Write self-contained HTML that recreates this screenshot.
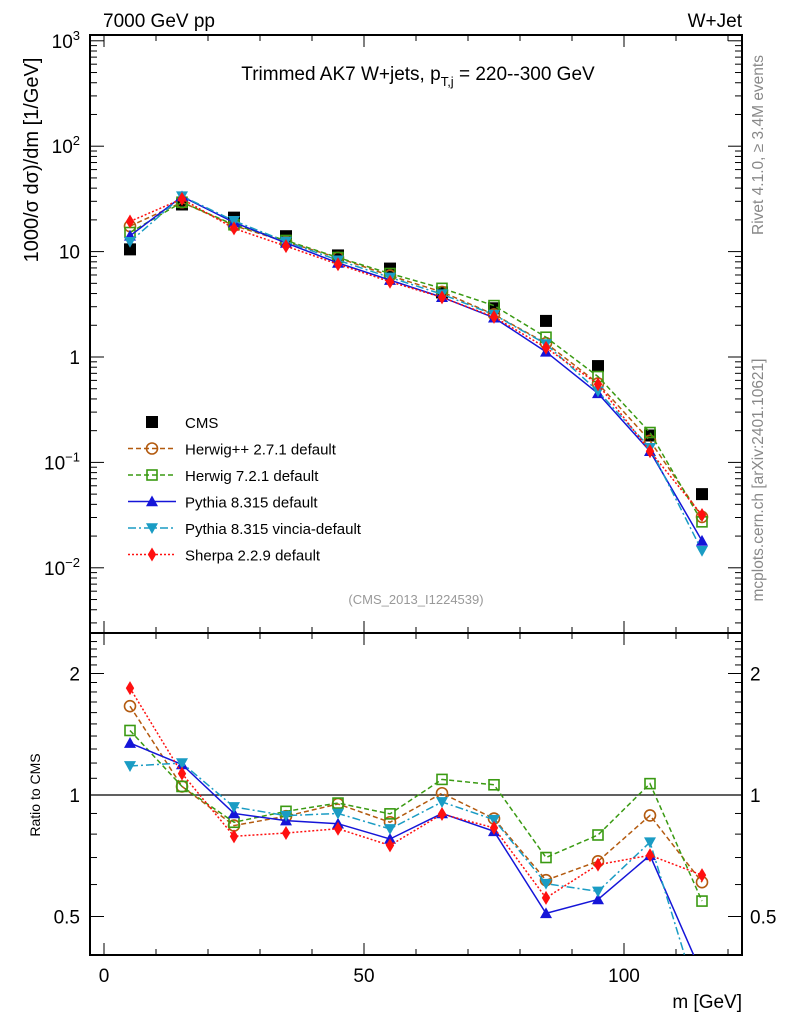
<!DOCTYPE html>
<html><head><meta charset="utf-8">
<style>
html,body{margin:0;padding:0;background:#fff;}
svg{display:block;font-family:"Liberation Sans",sans-serif;}
</style></head>
<body>
<svg id="chart" width="786" height="1024" viewBox="0 0 786 1024" xmlns="http://www.w3.org/2000/svg">
<rect width="786" height="1024" fill="#fff"/>
<text x="103" y="27" font-size="19">7000 GeV pp</text>
<text x="742" y="27" font-size="19" text-anchor="end">W+Jet</text>
<text x="418" y="80" font-size="19" text-anchor="middle">Trimmed AK7 W+jets, p<tspan font-size="13" dy="6">T,j</tspan><tspan dy="-6"> = 220--300 GeV</tspan></text>
<text transform="translate(38,160) rotate(-90)" font-size="20" text-anchor="middle">1000/σ  dσ)/dm [1/GeV]</text>
<text transform="translate(40,795) rotate(-90)" font-size="14" text-anchor="middle">Ratio to CMS</text>
<text x="742" y="1008" font-size="19" text-anchor="end">m [GeV]</text>
<text transform="translate(763,145) rotate(-90)" font-size="15.5" fill="#888" text-anchor="middle">Rivet 4.1.0, ≥ 3.4M events</text>
<text transform="translate(763,480) rotate(-90)" font-size="15.5" fill="#888" text-anchor="middle">mcplots.cern.ch [arXiv:2401.10621]</text>
<text x="416" y="604" font-size="13" fill="#999" text-anchor="middle">(CMS_2013_I1224539)</text>
<g id="axes"></g>
<g id="series"></g>
<g id="legend"></g>
</svg>
<script>
const bins = [5,15,25,35,45,55,65,75,85,95,105,115];
const cms = [10.5,28,21,14,9.2,6.9,4.1,2.9,2.2,0.82,0.18,0.05];
const ratioHerwigpp = [1.66,1.05,0.84,0.886,0.95,0.856,1.01,0.874,0.615,0.685,0.89,0.608];
const ratioHerwig7 = [1.445,1.05,0.856,0.911,0.955,0.898,1.093,1.06,0.70,0.796,1.067,0.546];
const ratioPythia = [1.345,1.19,0.90,0.864,0.849,0.778,0.90,0.813,0.509,0.551,0.709,0.36];
const ratioVincia = [1.18,1.2,0.934,0.889,0.90,0.824,0.961,0.869,0.603,0.577,0.764,0.29];
const ratioSherpa = [1.84,1.13,0.79,0.805,0.825,0.75,0.897,0.829,0.556,0.672,0.709,0.633];
const mainTicks = [-2,-1,0,1,2,3];
const mainTickLabels = ["10^-2","10^-1","1","10","10^2","10^3"];
const ratioTicks = [0.5,1,2];
const xTicks = [0,50,100];

const NS="http://www.w3.org/2000/svg";
const L=90,R=742,MT=35,MB=633,RB=955;
const X=v=>104+(v)*5.2;
const YM=v=>357-105.4*Math.log10(v);
const YR=v=>795-121.5*Math.log2(v);
function el(tag,attrs,parent){const e=document.createElementNS(NS,tag);for(const k in attrs)e.setAttribute(k,attrs[k]);parent.appendChild(e);return e;}
const axes=document.getElementById('axes');
const f1=el('rect',{x:L,y:MT,width:R-L,height:MB-MT,fill:'none',stroke:'#000','stroke-width':2},axes);


const f2=el('rect',{x:L,y:MB,width:R-L,height:RB-MB,fill:'none',stroke:'#000','stroke-width':2},axes);


for(let v=0;v<=120;v+=10){
  const len=(v%50===0)?12:6;const x=X(v);
  [[MT,1],[MB,-1],[MB,1],[RB,-1]].forEach(([y,d])=>{
    const t=el('line',{x1:x,x2:x,y1:y,y2:y+d*len,stroke:'#000','stroke-width':1},axes);
    
    
  });
}
xTicks.forEach(v=>{
  const t=el('text',{x:X(v),y:982,'font-size':19,'text-anchor':'middle'},axes);t.textContent=v;
  
  
});
for(let d=-3;d<=3;d++){for(let m=1;m<10;m++){
  const v=m*Math.pow(10,d);const y=YM(v);if(y<MT||y>MB)continue;
  const len=m===1?14:7;
  [[L,1],[R,-1]].forEach(([x,s])=>{
    const t=el('line',{x1:x,x2:x+s*len,y1:y,y2:y,stroke:'#000','stroke-width':1},axes);
    
    
  });
}}
mainTicks.forEach((p,i)=>{
  const y=YM(Math.pow(10,p));const lab=mainTickLabels[i];
  const t=el('text',{x:80,y:y+7,'font-size':19,'text-anchor':'end'},axes);
  
  
  if(lab.indexOf('^')>=0){const [b,e]=lab.split('^');
    const a=el('tspan',{},t);a.textContent=b;const s=el('tspan',{'font-size':13,dy:-8},t);s.textContent=e.replace('-','−');}
  else t.textContent=lab;
});
for(let v=0.4;v<=2.5;v+=0.1){
  const y=YR(v);if(y<MB||y>RB)continue;
  const major=ratioTicks.some(r=>Math.abs(r-v)<1e-6);const len=major?14:7;
  [[L,1],[R,-1]].forEach(([x,s])=>{
    const t=el('line',{x1:x,x2:x+s*len,y1:y,y2:y,stroke:'#000','stroke-width':1},axes);
    
    
  });
}
ratioTicks.forEach(v=>{
  const t=el('text',{x:80,y:YR(v)+7,'font-size':19,'text-anchor':'end'},axes);t.textContent=v;
  
  
  const t2=el('text',{x:750,y:YR(v)+7,'font-size':19},axes);t2.textContent=v;
  
  
});
const one=el('line',{x1:L,x2:R,y1:YR(1),y2:YR(1),stroke:'#000','stroke-width':1.2},axes);



const defs=el('defs',{},document.getElementById('chart'));
const c1=el('clipPath',{id:'cm'},defs);el('rect',{x:L,y:MT,width:R-L,height:MB-MT},c1);
const c2=el('clipPath',{id:'cr'},defs);el('rect',{x:L,y:MB,width:R-L,height:RB-MB},c2);

function marker(g,type,x,y,color,s){
  s=s||6;let m;
  if(type==='sqfill')m=el('rect',{x:x-s,y:y-s,width:2*s,height:2*s,fill:'#000'},g);
  else if(type==='circle')m=el('circle',{cx:x,cy:y,r:s-0.5,fill:'none',stroke:color,'stroke-width':1.6},g);
  else if(type==='sqopen')m=el('rect',{x:x-s+1,y:y-s+1,width:2*s-2,height:2*s-2,fill:'none',stroke:color,'stroke-width':1.6},g);
  else if(type==='up')m=el('polygon',{points:`${x},${y-s} ${x-s},${y+s*0.8} ${x+s},${y+s*0.8}`,fill:color},g);
  else if(type==='down')m=el('polygon',{points:`${x},${y+s} ${x-s},${y-s*0.8} ${x+s},${y-s*0.8}`,fill:color},g);
  else if(type==='diamond')m=el('polygon',{points:`${x},${y-s-1} ${x-s*0.7},${y} ${x},${y+s+1} ${x+s*0.7},${y}`,fill:color},g);
  return m;
}
const seriesDefs=[
 {name:'Herwig++ 2.7.1 default',ratio:ratioHerwigpp,color:'#b35a0f',dash:'5,3',type:'circle',key:'herwigpp'},
 {name:'Herwig 7.2.1 default',ratio:ratioHerwig7,color:'#3a9a12',dash:'5,3',type:'sqopen',key:'herwig7'},
 {name:'Pythia 8.315 default',ratio:ratioPythia,color:'#1515d8',dash:'',type:'up',key:'pythia'},
 {name:'Pythia 8.315 vincia-default',ratio:ratioVincia,color:'#1a9cc4',dash:'8,3,2,3',type:'down',key:'vincia'},
 {name:'Sherpa 2.2.9 default',ratio:ratioSherpa,color:'#ff1010',dash:'2,2',type:'diamond',key:'sherpa'}
];
const sg=document.getElementById('series');
const gm=el('g',{'clip-path':'url(#cm)'},sg);
const gr=el('g',{'clip-path':'url(#cr)'},sg);
cms.forEach((v,i)=>{
  const m=marker(gm,'sqfill',X(bins[i]),YM(v),'#000',6);
  
  
});
seriesDefs.forEach(s=>{
  const vals=s.ratio.map((r,i)=>r*cms[i]);
  const pm=vals.map((v,i)=>X(bins[i])+','+YM(v)).join(' ');
  const pr=s.ratio.map((r,i)=>X(bins[i])+','+YR(r)).join(' ');
  const l1=el('polyline',{points:pm,fill:'none',stroke:s.color,'stroke-width':1.5,'stroke-dasharray':s.dash},gm);
  
  
  const l2=el('polyline',{points:pr,fill:'none',stroke:s.color,'stroke-width':1.5,'stroke-dasharray':s.dash},gr);
  
  
  vals.forEach((v,i)=>{
    const m=marker(gm,s.type,X(bins[i]),YM(v),s.color,6);
    
    
    const m2=marker(gr,s.type,X(bins[i]),YR(s.ratio[i]),s.color,6);
    
    
  });
});
const lg=document.getElementById('legend');
const ly0=422,ldy=26.5;
const cm=marker(lg,'sqfill',152,ly0,'#000',6);


const ct=el('text',{x:185,y:ly0+6,'font-size':15},lg);ct.textContent='CMS';


seriesDefs.forEach((s,i)=>{
  const y=ly0+ldy*(i+1);
  const ln=el('line',{x1:128,x2:176,y1:y,y2:y,stroke:s.color,'stroke-width':1.5,'stroke-dasharray':s.dash},lg);
  
  
  const m=marker(lg,s.type,152,y,s.color,6);
  
  
  const t=el('text',{x:185,y:y+6,'font-size':15},lg);t.textContent=s.name;
  
  
});
</script>
</body></html>
